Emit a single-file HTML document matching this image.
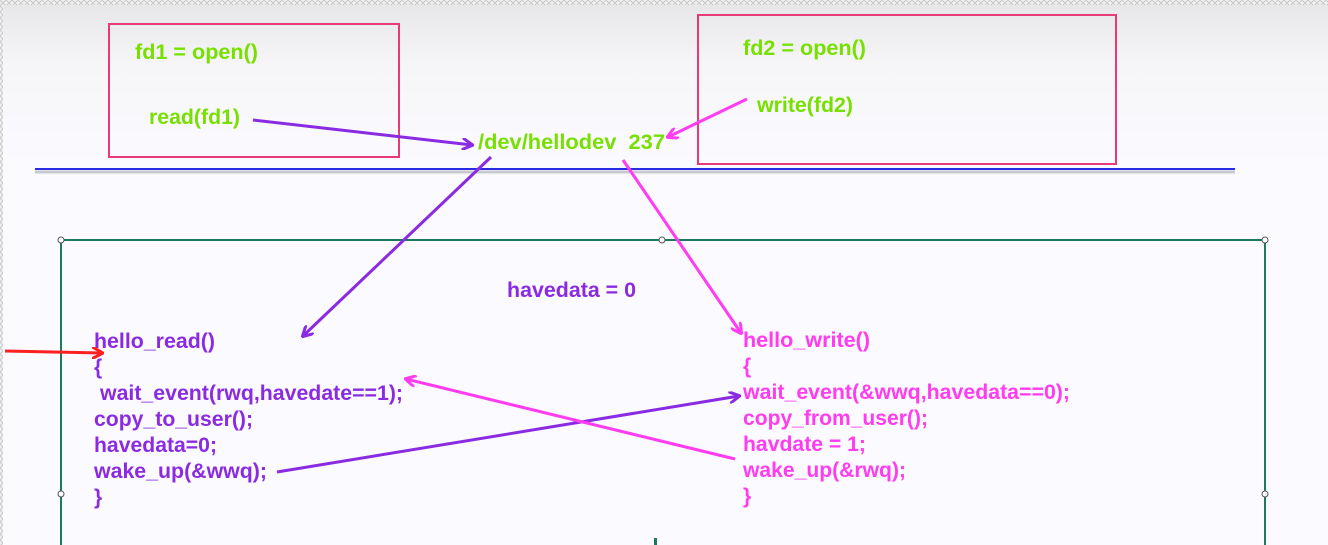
<!DOCTYPE html>
<html><head><meta charset="utf-8"><style>
html,body{margin:0;padding:0;width:1328px;height:545px;overflow:hidden;background:#fbfaff}
svg{display:block}
text{font-family:"Liberation Sans",Arial,sans-serif;font-weight:bold;font-size:21px}
</style></head><body>
<svg width="1328" height="545" viewBox="0 0 1328 545" xmlns="http://www.w3.org/2000/svg">
<defs>
<linearGradient id="bg" x1="0" y1="0" x2="0" y2="1">
<stop offset="0" stop-color="#e6e6e8"/><stop offset="0.12" stop-color="#f6f6f8"/><stop offset="0.3" stop-color="#fbfaff"/><stop offset="1" stop-color="#fbfaff"/>
</linearGradient>
<pattern id="chk" width="6" height="6" patternUnits="userSpaceOnUse"><rect width="6" height="6" fill="#f2f2f2"/><path d="M0 0L6 6M6 0L0 6" stroke="#c8c8c8" stroke-width="1"/></pattern>
<marker id="ap" markerWidth="12" markerHeight="12" refX="10" refY="6" orient="auto" markerUnits="userSpaceOnUse"><path d="M0 0L11 6L0 12" fill="none" stroke="#8a2be2" stroke-width="3"/></marker>
<marker id="am" markerWidth="12" markerHeight="12" refX="10" refY="6" orient="auto" markerUnits="userSpaceOnUse"><path d="M0 0L11 6L0 12" fill="none" stroke="#ff3cf0" stroke-width="3"/></marker>
<marker id="ar" markerWidth="12" markerHeight="12" refX="10" refY="6" orient="auto" markerUnits="userSpaceOnUse"><path d="M0 0L11 6L0 12" fill="none" stroke="#ff2020" stroke-width="3"/></marker>
</defs>
<rect width="1328" height="545" fill="url(#bg)"/>
<rect width="1328" height="5" fill="url(#chk)"/>
<rect width="3" height="545" fill="url(#chk)"/>

<rect x="109" y="24" width="290" height="133" fill="none" stroke="#e83a78" stroke-width="2"/>
<rect x="698" y="15" width="418" height="149" fill="none" stroke="#e83a78" stroke-width="2"/>
<line x1="35" y1="172" x2="1235" y2="172" stroke="#c8c8d0" stroke-width="3"/>
<line x1="35" y1="169" x2="1235" y2="169" stroke="#2a2ae6" stroke-width="2"/>

<rect x="61" y="240" width="1204" height="320" fill="none" stroke="#1a7a5a" stroke-width="2"/>
<g fill="#fff" stroke="#555" stroke-width="1">
<circle cx="61" cy="240" r="3"/><circle cx="662" cy="240" r="3"/><circle cx="1265" cy="240" r="3"/>
<circle cx="61" cy="494" r="3"/><circle cx="1265" cy="494" r="3"/>
</g>
<rect x="654" y="538" width="3" height="7" fill="#1a7a5a"/>

<g fill="#78e000">
<text x="135" y="59" textLength="123" lengthAdjust="spacingAndGlyphs">fd1 = open()</text>
<text x="149" y="124" textLength="91" lengthAdjust="spacingAndGlyphs">read(fd1)</text>
<text x="478" y="149" textLength="187" lengthAdjust="spacingAndGlyphs" xml:space="preserve">/dev/hellodev  237</text>
<text x="743" y="55" textLength="123" lengthAdjust="spacingAndGlyphs">fd2 = open()</text>
<text x="757" y="112" textLength="96" lengthAdjust="spacingAndGlyphs">write(fd2)</text>
</g>
<text x="507" y="297" fill="#8a2be2" textLength="129" lengthAdjust="spacingAndGlyphs">havedata = 0</text>

<g fill="#8a2be2">
<text x="94" y="348" textLength="121" lengthAdjust="spacingAndGlyphs">hello_read()</text>
<text x="94" y="374">{</text>
<text x="100" y="400" textLength="303" lengthAdjust="spacingAndGlyphs">wait_event(rwq,havedate==1);</text>
<text x="94" y="426" textLength="159" lengthAdjust="spacingAndGlyphs">copy_to_user();</text>
<text x="94" y="452" textLength="123" lengthAdjust="spacingAndGlyphs">havedata=0;</text>
<text x="94" y="478" textLength="173" lengthAdjust="spacingAndGlyphs">wake_up(&amp;wwq);</text>
<text x="94" y="504">}</text>
</g>
<g fill="#ff3cf0">
<text x="743" y="347" textLength="127" lengthAdjust="spacingAndGlyphs">hello_write()</text>
<text x="743" y="373">{</text>
<text x="743" y="399" textLength="327" lengthAdjust="spacingAndGlyphs">wait_event(&amp;wwq,havedata==0);</text>
<text x="743" y="425" textLength="185" lengthAdjust="spacingAndGlyphs">copy_from_user();</text>
<text x="743" y="451" textLength="123" lengthAdjust="spacingAndGlyphs">havdate = 1;</text>
<text x="743" y="477" textLength="163" lengthAdjust="spacingAndGlyphs">wake_up(&amp;rwq);</text>
<text x="743" y="503">}</text>
</g>

<g stroke-width="3" fill="none">
<line x1="253" y1="120" x2="472" y2="145" stroke="#8a2be2" marker-end="url(#ap)"/>
<line x1="747" y1="99" x2="668" y2="137" stroke="#ff3cf0" marker-end="url(#am)"/>
<line x1="491" y1="157" x2="303" y2="336" stroke="#8a2be2" marker-end="url(#ap)"/>
<line x1="623" y1="160" x2="741" y2="333" stroke="#ff3cf0" marker-end="url(#am)"/>
<line x1="277" y1="472" x2="739" y2="396" stroke="#8a2be2" marker-end="url(#ap)"/>
<line x1="735" y1="459" x2="406" y2="379" stroke="#ff3cf0" marker-end="url(#am)"/>
<line x1="5" y1="351" x2="102" y2="353" stroke="#ff2020" marker-end="url(#ar)"/>
</g>
</svg>
</body></html>
